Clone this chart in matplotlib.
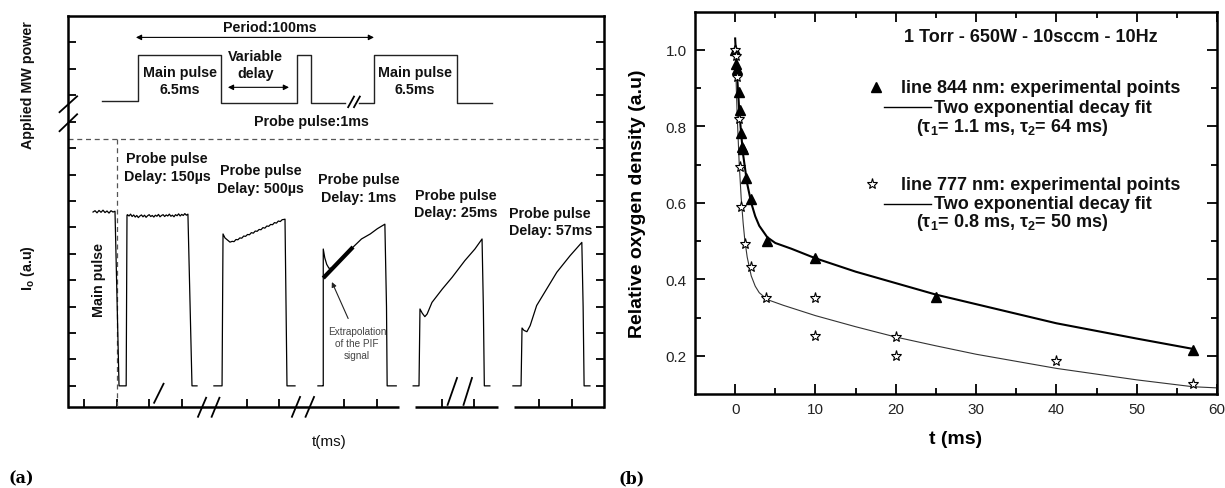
import numpy as np
import matplotlib
matplotlib.use('Agg')
import matplotlib.pyplot as plt
from matplotlib.ticker import FormatStrFormatter

plt.rcParams['font.family'] = ['Liberation Sans', 'DejaVu Sans']
plt.rcParams['mathtext.fontset'] = 'custom'
plt.rcParams['mathtext.rm'] = 'Liberation Sans'
plt.rcParams['mathtext.it'] = 'Liberation Sans:italic'
plt.rcParams['mathtext.bf'] = 'Liberation Sans:bold'
plt.rcParams['mathtext.default'] = 'bf'

# ====================== panel (b) data ======================
t_844 = [0, 0.15, 0.2, 0.45, 0.55, 0.7, 0.9, 1.0, 1.3, 1.95, 4, 10, 25, 57]
n_844 = [1.0, 0.963, 0.95, 0.89, 0.842, 0.782, 0.745, 0.74, 0.665, 0.61, 0.5, 0.455, 0.355, 0.215]
fit_844_t = [0, 0.25, 0.5, 0.75, 1.0, 1.5, 2, 2.5, 3, 4, 5, 7, 10, 15, 20, 25, 30, 35, 40, 45, 50, 57]
fit_844_n = [1.03, 0.93, 0.845, 0.78, 0.725, 0.65, 0.6, 0.565, 0.54, 0.51, 0.495, 0.48, 0.455,
             0.42, 0.39, 0.36, 0.335, 0.31, 0.285, 0.265, 0.245, 0.218]
t_777 = [0, 0.1, 0.27, 0.44, 0.56, 0.77, 1.18, 1.93, 3.9, 10, 10, 20, 20, 40, 57]
n_777 = [1.0, 0.985, 0.928, 0.82, 0.695, 0.59, 0.492, 0.433, 0.352, 0.35, 0.253, 0.25, 0.2, 0.186, 0.127]
fit_777_t = [0, 0.25, 0.5, 0.75, 1.0, 1.2, 1.5, 2, 2.5, 3, 4, 6, 10, 15, 20, 25, 30, 40, 50, 57, 60]
fit_777_n = [1.0, 0.83, 0.705, 0.613, 0.546, 0.503, 0.458, 0.409, 0.382, 0.365, 0.347, 0.332, 0.305,
             0.276, 0.249, 0.226, 0.204, 0.167, 0.137, 0.119, 0.116]
b_xticks = [0, 10, 20, 30, 40, 50, 60]
b_xminor = [5, 15, 25, 35, 45, 55]
b_yticks = [0.2, 0.4, 0.6, 0.8, 1.0]
b_yminor = [0.3, 0.5, 0.7, 0.9]

# ====================== panel (a) schematic data ======================
# applied MW power waveform (two pieces separated by a break)
mw1_t = [1.55, 2.65, 2.65, 5.21, 5.21, 7.55, 7.55, 7.98, 7.98, 9.02]
mw1_v = [10.78, 10.78, 12.51, 12.51, 10.72, 10.72, 12.51, 12.51, 10.72, 10.72]
mw2_t = [9.45, 9.92, 9.92, 12.47, 12.47, 13.55]
mw2_v = [10.72, 10.72, 12.51, 12.51, 10.72, 10.72]

# main pulse + 150 us probe pulse trace
main_flat = [6.58, 6.63, 6.55, 6.64, 6.57, 6.65, 6.56, 6.62, 6.54, 6.63, 6.58, 6.61]
p150_flat = [6.48, 6.43, 6.50, 6.41, 6.47, 6.39, 6.45, 6.37, 6.43, 6.47, 6.40, 6.46, 6.38, 6.44,
             6.48, 6.41, 6.45, 6.39, 6.46, 6.42, 6.49, 6.40, 6.45, 6.48, 6.41, 6.47, 6.43, 6.50,
             6.42, 6.46, 6.40, 6.48, 6.44, 6.51, 6.43, 6.49, 6.45, 6.52, 6.46, 6.50]
# 500 us probe pulse rising part
p500_rise = [5.47, 5.46, 5.54, 5.53, 5.60, 5.59, 5.67, 5.66, 5.73, 5.72, 5.80, 5.78, 5.86, 5.85,
             5.92, 5.91, 5.99, 5.97, 6.05, 6.04, 6.11, 6.10, 6.18, 6.16, 6.24, 6.22, 6.29, 6.30]
# 1 ms probe pulse
p1_t = [8.19, 8.33, 8.354, 8.354, 8.40, 8.46, 8.53, 8.65, 9.27, 9.53, 9.80, 10.02, 10.25, 10.30, 10.32, 10.60]
p1_v = [0, 0, 0, 5.18, 4.85, 4.60, 4.45, 4.46, 5.25, 5.56, 5.75, 5.95, 6.12, 3.0, 0, 0]
extrap_t = [8.354, 9.27]
extrap_v = [4.08, 5.255]
# 25 ms probe pulse
p25_t = [11.12, 11.30, 11.33, 11.40, 11.48, 11.55, 11.70, 12.02, 12.32, 12.71, 13.02, 13.24, 13.28, 13.31, 13.48]
p25_v = [0, 0, 2.91, 2.75, 2.62, 2.72, 3.16, 3.67, 4.11, 4.74, 5.18, 5.56, 3.0, 0, 0]
# 57 ms probe pulse
p57_t = [14.19, 14.44, 14.47, 14.53, 14.62, 14.72, 14.92, 15.23, 15.54, 15.95, 16.31, 16.35, 16.38, 16.56]
p57_v = [0, 0, 2.19, 2.10, 2.05, 2.28, 3.04, 3.67, 4.30, 4.93, 5.43, 3.0, 0, 0]

a_xticks = [1, 2, 3, 4, 6, 7, 9, 10, 12, 13, 15, 16]
a_yticks = list(range(0, 14))
a_axis_segments = [(0.5, 10.68), (11.18, 13.73), (14.22, 17.0)]
a_breaks = [((3.15, 3.44), (-0.64, 0.08)),
            ((4.50, 4.75), (-1.17, -0.45)), ((4.92, 5.16), (-1.17, -0.45)),
            ((7.39, 7.64), (-1.17, -0.42)), ((7.81, 8.07), (-1.17, -0.42)),
            ((12.18, 12.47), (-0.72, 0.30)), ((12.67, 12.93), (-0.72, 0.30)),
            ((0.24, 0.78), (10.36, 10.96)), ((0.24, 0.78), (9.64, 10.28)),
            ((9.12, 9.30), (10.55, 10.95)), ((9.30, 9.48), (10.55, 10.95))]

probe_labels = ['Probe pulse\nDelay: 150\u00b5s', 'Probe pulse\nDelay: 500\u00b5s',
                'Probe pulse\nDelay: 1ms', 'Probe pulse\nDelay: 25ms', 'Probe pulse\nDelay: 57ms']
probe_label_x = [3.55, 6.43, 9.45, 12.44, 15.34]
probe_label_y = [8.28, 7.83, 7.49, 6.90, 6.22]

# ====================== figure ======================
W, H = 1225.0, 489.0
fig = plt.figure(figsize=(12.25, 4.89), dpi=100)


def box(x0, y0, x1, y1):
    return [x0 / W, 1 - y1 / H, (x1 - x0) / W, (y1 - y0) / H]


axA = fig.add_axes(box(68, 17, 604.25, 408))
axB = fig.add_axes(box(695, 12.7, 1217, 395))

# ---------- panel (a) ----------
LW_SP = 1.8
axA.set_xlim(0.5, 17.0)
axA.set_ylim(-0.8, 14.0)
for s in ['left', 'right', 'top']:
    axA.spines[s].set_linewidth(LW_SP)
axA.spines['bottom'].set_visible(False)
axA.set_yticks(a_yticks)
axA.set_xticks(a_xticks)
axA.tick_params(axis='y', direction='in', left=True, right=True, length=6, width=1.3,
                labelleft=False, labelright=False)
axA.tick_params(axis='x', direction='in', bottom=True, top=False, length=6, width=1.3,
                labelbottom=False)
for x0, x1 in a_axis_segments:
    axA.plot([x0, x1], [-0.8, -0.8], color='black', lw=LW_SP, solid_capstyle='butt', clip_on=False)
for xs, ys in a_breaks:
    axA.plot(xs, ys, color='black', lw=1.3, clip_on=False)

line_col = '#222222'
axA.plot(mw1_t, mw1_v, color=line_col, lw=1.0)
axA.plot(mw2_t, mw2_v, color=line_col, lw=1.0)

# dashed separators
axA.axhline(9.34, color='#555555', lw=0.9, ls=(0, (4, 3)))
axA.plot([2.0, 2.0], [9.34, -0.8], color='#555555', lw=0.9, ls=(0, (4, 3)))

# traces
main_x = np.linspace(1.27, 1.946, len(main_flat))
p150_x = np.linspace(2.33, 4.19, len(p150_flat))
trA_x = list(main_x) + [2.07, 2.29, 2.315] + list(p150_x) + [4.315, 4.47]
trA_y = list(main_flat) + [0, 0, 6.46] + list(p150_flat) + [0, 0]
axA.plot(trA_x, trA_y, color='black', lw=0.9)

p500_x = np.linspace(5.55, 7.15, len(p500_rise))
trB_x = [4.99, 5.24, 5.27, 5.33, 5.485] + list(p500_x) + [7.177, 7.238, 7.485]
trB_y = [0, 0, 5.75, 5.60, 5.44] + list(p500_rise) + [6.31, 0, 0]
axA.plot(trB_x, trB_y, color='black', lw=0.9)

axA.plot(p1_t, p1_v, color='black', lw=0.9)
axA.plot(extrap_t, extrap_v, color='black', lw=3.0, solid_capstyle='butt')
axA.plot(p25_t, p25_v, color='black', lw=0.9)
axA.plot(p57_t, p57_v, color='black', lw=0.9)

# annotations in schematic
bold = dict(fontsize=10.3, fontweight='bold', color='#111111')
axA.annotate('', xy=(2.59, 13.19), xytext=(9.915, 13.19),
             arrowprops=dict(arrowstyle='<|-|>', color='black', lw=0.8, mutation_scale=8,
                             shrinkA=0, shrinkB=0))
axA.text(6.72, 13.57, 'Period:100ms', ha='center', va='center', **bold)
axA.annotate('', xy=(5.42, 11.30), xytext=(7.30, 11.30),
             arrowprops=dict(arrowstyle='<|-|>', color='black', lw=0.8, mutation_scale=8,
                             shrinkA=0, shrinkB=0))
axA.text(6.28, 12.17, 'Variable\ndelay', ha='center', va='center', linespacing=1.25, **bold)
axA.text(3.95, 11.57, 'Main pulse\n6.5ms', ha='center', va='center', linespacing=1.25, **bold)
axA.text(11.18, 11.57, 'Main pulse\n6.5ms', ha='center', va='center', linespacing=1.25, **bold)
axA.text(7.98, 10.02, 'Probe pulse:1ms', ha='center', va='center', **bold)

for lab, x, y in zip(probe_labels, probe_label_x, probe_label_y):
    axA.text(x, y, lab, ha='center', va='center', linespacing=1.3, **bold)
axA.text(1.456, 4.05, 'Main pulse', rotation=90, ha='center', va='center', **bold)

axA.annotate('', xy=(8.62, 3.93), xytext=(9.12, 2.55),
             arrowprops=dict(arrowstyle='-|>', color='#222222', lw=0.8, mutation_scale=7,
                             shrinkA=0, shrinkB=0))
axA.text(9.39, 1.63, 'Extrapolation\nof the PIF\nsignal', ha='center', va='center',
         fontsize=7.2, color='#444444', linespacing=1.25)

fig.text(28 / W, 1 - 85 / H, 'Applied MW power', rotation=90, ha='center', va='center',
         fontsize=10.3, fontweight='bold', color='#111111')
fig.text(28 / W, 1 - 268 / H, r'I$_{o}$ (a.u)', rotation=90, ha='center', va='center',
         fontsize=10.3, fontweight='bold', color='#111111')
fig.text(329 / W, 1 - 442 / H, 't(ms)', ha='center', va='center', fontsize=11, color='#111111')

# ---------- panel (b) ----------
axB.set_xlim(-5, 60)
axB.set_ylim(0.1, 1.1)
for s in axB.spines.values():
    s.set_linewidth(LW_SP)
axB.plot(fit_844_t, fit_844_n, color='black', lw=1.5, zorder=2)
axB.plot(fit_777_t, fit_777_n, color='#333333', lw=0.8, zorder=2)
axB.plot(t_844, n_844, ls='none', marker='^', ms=7.5, color='black', zorder=3)
axB.plot(t_777, n_777, ls='none', marker='*', ms=8, mfc='white', mec='black', mew=0.8, zorder=4)

axB.set_xticks(b_xticks)
axB.set_xticks(b_xminor, minor=True)
axB.set_yticks(b_yticks)
axB.set_yticks(b_yminor, minor=True)
axB.yaxis.set_major_formatter(FormatStrFormatter('%.1f'))
axB.tick_params(which='both', direction='in', top=True, right=True, width=1.3,
                labelsize=11, labelcolor='#222222')
axB.tick_params(which='major', length=7, pad=6)
axB.tick_params(which='minor', length=4)

axB.set_xlabel('t (ms)', fontsize=14, fontweight='bold')
axB.xaxis.set_label_coords(0.5, -0.095)
axB.set_ylabel('Relative oxygen density (a.u)', fontsize=14, fontweight='bold')
axB.yaxis.set_label_coords(-0.094, 0.5)

btxt = dict(fontsize=13, fontweight='bold', color='#111111', va='center')
axB.text(36.8, 1.036, '1 Torr - 650W - 10sccm - 10Hz', ha='center', **btxt)
axB.plot([17.5], [0.902], ls='none', marker='^', ms=7.5, color='black')
axB.text(20.6, 0.902, 'line 844 nm: experimental points', ha='left', **btxt)
axB.plot([18.5, 24.4], [0.85, 0.85], color='black', lw=1.0)
axB.text(24.75, 0.85, 'Two exponential decay fit', ha='left', **btxt)
axB.text(34.5, 0.80, r'($\tau_1$= 1.1 ms, $\tau_2$= 64 ms)', ha='center', **btxt)
axB.plot([17.1], [0.649], ls='none', marker='*', ms=8, mfc='white', mec='black', mew=0.8)
axB.text(20.6, 0.649, 'line 777 nm: experimental points', ha='left', **btxt)
axB.plot([18.5, 24.4], [0.597, 0.597], color='black', lw=1.0)
axB.text(24.75, 0.597, 'Two exponential decay fit', ha='left', **btxt)
axB.text(34.5, 0.55, r'($\tau_1$= 0.8 ms, $\tau_2$= 50 ms)', ha='center', **btxt)

# panel letters
fig.text(8 / W, 1 - 479 / H, '(a)', ha='left', va='center', fontsize=11.5, fontweight='bold',
         family='DejaVu Serif')
fig.text(618 / W, 1 - 479 / H, '(b)', ha='left', va='center', fontsize=11.5, fontweight='bold',
         family='DejaVu Serif')

fig.savefig('out.png', dpi=100)
